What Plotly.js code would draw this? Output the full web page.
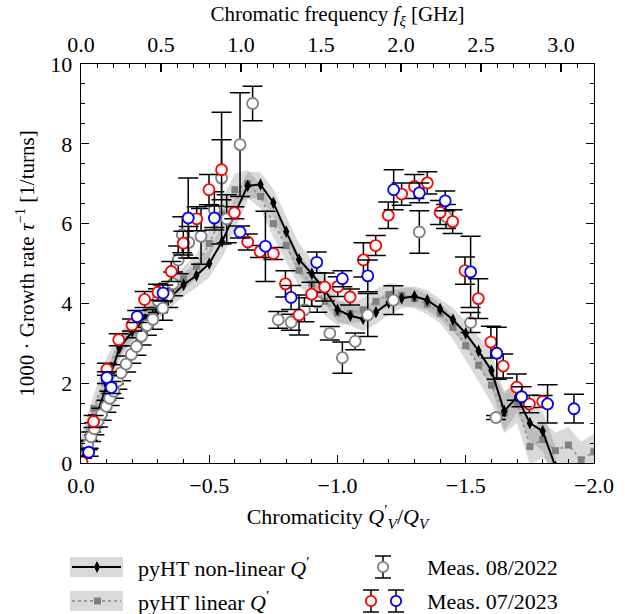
<!DOCTYPE html>
<html><head><meta charset="utf-8">
<script src="https://cdn.plot.ly/plotly-3.0.1.min.js"></script>
<style>html,body{margin:0;padding:0;background:#fff}#chart{width:625px;height:614px}</style>
</head><body><div id="chart"></div>
<script>
// ---- pyHT non-linear Q' model ----
const nlQ = [0,-0.05,-0.1,-0.15,-0.2,-0.25,-0.3,-0.35,-0.4,-0.45,
  -0.5,-0.55,-0.6,-0.65,-0.7,-0.75,-0.8,-0.85,-0.9,-0.95,
  -1.0,-1.05,-1.1,-1.15,-1.2,-1.25,-1.3,-1.35,-1.4,-1.45,
  -1.5,-1.55,-1.6,-1.65,-1.7,-1.75,-1.8,-1.85];
const nlGrowth = [0.05,1.0,1.95,2.88,3.3,3.6,3.85,4.15,4.47,4.7,
  5.0,5.55,6.25,6.95,6.98,6.52,5.80,5.10,4.74,4.34,
  3.84,3.69,3.61,3.78,4.02,4.13,4.18,4.08,3.86,3.59,
  3.25,2.81,2.32,1.30,1.66,1.00,0.80,-0.1];
const nlSpread = [0.3,0.35,0.35,0.3,0.25,0.25,0.25,0.25,0.3,0.3,
  0.35,0.4,0.4,0.35,0.3,0.35,0.4,0.4,0.35,0.35,
  0.3,0.25,0.3,0.3,0.3,0.25,0.25,0.25,0.25,0.3,
  0.3,0.35,0.45,0.5,0.4,0.45,0.5,0.5];

// ---- pyHT linear Q' model ----
const linQ = [0,-0.05,-0.1,-0.15,-0.2,-0.25,-0.3,-0.35,-0.4,-0.45,
  -0.5,-0.55,-0.6,-0.65,-0.7,-0.75,-0.8,-0.85,-0.9,-0.95,
  -1.0,-1.05,-1.1,-1.15,-1.2,-1.25,-1.3,-1.35,-1.4,-1.45,
  -1.5,-1.55,-1.6,-1.65,-1.7,-1.75,-1.8,-1.85,-1.9,-1.95,-2.0];
const linGrowth = [0.35,1.37,2.3,2.95,3.35,3.65,3.95,4.3,4.62,4.93,
  5.5,6.22,6.85,7.0,6.68,6.0,5.45,4.83,4.49,4.05,
  3.76,3.75,3.84,4.05,4.22,4.2,4.12,3.98,3.75,3.40,
  2.94,2.45,1.95,1.25,1.5,0.41,0.59,0.31,0.45,0.08,0.28];
const linSpread = [0.3,0.35,0.35,0.3,0.25,0.25,0.25,0.25,0.3,0.3,
  0.35,0.4,0.4,0.35,0.3,0.35,0.4,0.4,0.35,0.35,
  0.3,0.25,0.3,0.3,0.3,0.25,0.25,0.25,0.25,0.3,
  0.35,0.4,0.45,0.5,0.5,0.45,0.45,0.45,0.45,0.45,0.45];

// ---- Measurement 08/2022 (grey) ----
const m22Q = [-0.026,-0.039,-0.052,-0.066,-0.080,-0.099,-0.112,-0.128,-0.142,-0.156,
  -0.176,-0.196,-0.216,-0.236,-0.257,-0.280,-0.300,-0.319,-0.340,-0.359,
  -0.379,-0.395,-0.420,-0.468,-0.520,-0.548,-0.568,-0.620,-0.669,-0.769,
  -0.819,-0.871,-0.921,-0.970,-1.019,-1.069,-1.118,-1.218,-1.319,-1.423,
  -1.519,-1.618];
const m22Growth = [0.45,0.66,0.86,1.05,1.22,1.42,1.62,1.80,2.05,2.26,
  2.48,2.72,2.92,3.18,3.45,3.60,4.07,3.88,4.20,4.49,
  5.09,5.72,5.53,5.68,6.35,7.14,6.12,7.98,9.01,3.59,
  3.53,3.84,4.03,3.25,2.64,3.05,3.71,4.08,5.79,6.18,
  3.52,1.14];
const m22Err = [0.12,0.12,0.15,0.15,0.15,0.15,0.18,0.18,0.2,0.2,
  0.2,0.22,0.22,0.22,0.25,0.25,0.3,0.3,0.3,0.3,
  0.35,0.45,0.4,0.7,0.45,1.65,0.6,1.3,0.43,0.21,
  0.2,0.3,0.25,0.17,0.39,0.21,0.54,0.36,0.53,0.3,
  0.25,0.05];

// ---- Measurement 07/2023 (red) ----
const m23aQ = [-0.004,-0.049,-0.101,-0.147,-0.199,-0.248,-0.300,-0.352,-0.399,-0.451,
  -0.499,-0.548,-0.598,-0.650,-0.698,-0.750,-0.797,-0.850,-0.899,-0.950,
  -1.001,-1.049,-1.101,-1.149,-1.198,-1.250,-1.300,-1.350,-1.400,-1.449,
  -1.497,-1.549,-1.598,-1.646,-1.699,-1.748,-1.800];
const m23aGrowth = [0.02,1.04,2.35,3.09,3.46,4.10,4.28,4.80,5.51,6.12,
  6.85,7.35,6.27,5.54,5.30,5.25,4.49,3.71,4.23,4.41,
  4.42,4.16,5.09,5.45,6.21,6.74,6.93,7.02,6.28,6.05,
  4.82,4.12,3.03,2.43,1.90,1.48,1.54];
const m23aErr = [0.1,0.15,0.15,0.15,0.15,0.2,0.2,0.25,0.3,0.3,
  0.38,0.75,0.15,0.2,0.15,0.15,0.33,0.5,0.3,0.35,
  0.25,0.2,0.43,0.25,0.33,0.28,0.3,0.28,0.3,0.3,
  0.34,0.5,0.4,0.3,0.33,0.22,0.15];

// ---- Measurement 07/2023 (blue) ----
const m23bQ = [-0.030,-0.101,-0.118,-0.219,-0.320,-0.418,-0.520,-0.620,-0.719,-0.819,
  -0.919,-1.019,-1.118,-1.219,-1.319,-1.420,-1.519,-1.621,-1.718,-1.819,-1.922];
const m23bGrowth = [0.27,2.14,1.89,3.67,4.26,6.14,6.14,5.79,5.43,4.15,
  5.03,4.62,4.69,6.85,6.77,6.57,4.79,2.75,1.66,1.48,1.36];
const m23bErr = [0.1,0.15,0.15,0.15,0.2,1.0,0.3,0.15,0.88,0.3,
  0.26,0.2,0.4,0.5,0.25,0.25,0.89,0.65,0.25,0.48,0.36];

// Top axis range (chromatic frequency, GHz)
const freqRange = [0, 3.206];

const FONT = 'Liberation Serif, Times New Roman, serif';
const bandColor = 'rgba(128,128,128,0.3)';

function band(xs, ys, sp, name) {
  const lo = ys.map((v, i) => v - sp[i]);
  const hi = ys.map((v, i) => v + sp[i]);
  return [
    {x: xs, y: lo, mode: 'lines', line: {width: 0}, hoverinfo: 'skip', showlegend: false, name: name + ' lo'},
    {x: xs, y: hi, mode: 'lines', line: {width: 0}, fill: 'tonexty', fillcolor: bandColor, hoverinfo: 'skip', showlegend: false, name: name + ' hi'}
  ];
}

const meas = (xs, ys, es, col, name) => ({
  x: xs, y: ys, name: name, mode: 'markers', type: 'scatter',
  marker: {symbol: 'circle', size: 11, color: 'white', line: {color: col, width: 1.8}},
  error_y: {type: 'data', array: es, visible: true, color: 'black', thickness: 1.5, width: 10}
});

const traces = [
  ...band(nlQ, nlGrowth, nlSpread, 'nl'),
  ...band(linQ, linGrowth, linSpread, 'lin'),
  {x: linQ, y: linGrowth, name: 'pyHT linear', mode: 'lines+markers',
   line: {color: '#9a9a9a', width: 2, dash: 'dot'},
   marker: {symbol: 'square', size: 7, color: '#808080'}},
  {x: nlQ, y: nlGrowth, name: 'pyHT non-linear', mode: 'lines+markers',
   line: {color: 'black', width: 2},
   marker: {symbol: 'diamond-tall', size: 9, color: 'black'}},
  meas(m22Q, m22Growth, m22Err, '#808080', 'Meas. 08/2022'),
  meas(m23aQ, m23aGrowth, m23aErr, '#ff0000', 'Meas. 07/2023 a'),
  meas(m23bQ, m23bGrowth, m23bErr, '#0000ff', 'Meas. 07/2023 b'),
  {x: freqRange, y: [null, null], xaxis: 'x2', yaxis: 'y', mode: 'markers', showlegend: false, hoverinfo: 'skip'}
];

// legend helpers (pixel -> paper)
const L = 81, R = 594, T = 64, B = 463;
const PX = p => (p - L) / (R - L);
const PY = p => (B - p) / (B - T);

const shapes = [];
function line(x0, y0, x1, y1, col, w, dash) {
  shapes.push({type: 'line', xref: 'paper', yref: 'paper', x0: PX(x0), y0: PY(y0), x1: PX(x1), y1: PY(y1),
    line: {color: col, width: w, dash: dash || 'solid'}});
}
function rect(x0, y0, x1, y1, fill) {
  shapes.push({type: 'rect', xref: 'paper', yref: 'paper', x0: PX(x0), y0: PY(y0), x1: PX(x1), y1: PY(y1),
    fillcolor: fill, line: {width: 0}});
}
function circ(cx, cy, r, col) {
  shapes.push({type: 'circle', xref: 'paper', yref: 'paper', x0: PX(cx - r), y0: PY(cy + r), x1: PX(cx + r), y1: PY(cy - r),
    fillcolor: 'white', line: {color: col, width: 1.8}});
}
function errSym(cx, cy, col) {
  line(cx, cy - 11, cx, cy + 11, 'black', 1.5);
  line(cx - 8, cy - 11, cx + 8, cy - 11, 'black', 1.5);
  line(cx - 8, cy + 11, cx + 8, cy + 11, 'black', 1.5);
  circ(cx, cy, 5.2, col);
}
const r1 = 567, r2 = 601;
rect(70, r1 - 10, 123, r1 + 10, '#d9d9d9');
line(72, r1, 121, r1, 'black', 2);
shapes.push({type: 'path', xref: 'paper', yref: 'paper',
  path: `M ${PX(97)} ${PY(r1 - 6)} L ${PX(100)} ${PY(r1)} L ${PX(97)} ${PY(r1 + 6)} L ${PX(94)} ${PY(r1)} Z`,
  fillcolor: 'black', line: {width: 0}});
rect(70, r2 - 10, 123, r2 + 10, '#d9d9d9');
line(72, r2, 121, r2, '#9a9a9a', 2, 'dot');
rect(94, r2 - 3.5, 101, r2 + 3.5, '#808080');
errSym(383, r1, '#808080');
errSym(371, r2, '#ff0000');
errSym(396, r2, '#0000ff');

const annFont = {family: FONT, size: 22, color: 'black'};
const annotations = [
  {text: 'pyHT non-linear <i>Q</i><sup>′</sup>', x: PX(136), y: PY(r1)},
  {text: 'pyHT linear <i>Q</i><sup>′</sup>', x: PX(136), y: PY(r2)},
  {text: 'Meas. 08/2022', x: PX(425), y: PY(r1)},
  {text: 'Meas. 07/2023', x: PX(425), y: PY(r2)}
].map(a => Object.assign(a, {xref: 'paper', yref: 'paper', xanchor: 'left', yanchor: 'middle', showarrow: false, font: annFont}));

const axisCommon = {
  showline: true, linecolor: 'black', linewidth: 1.3, showgrid: false, zeroline: false,
  ticks: 'inside', ticklen: 8, tickwidth: 1.2, tickcolor: 'black',
  tickfont: {family: FONT, size: 22, color: 'black'}
};

const layout = {
  width: 625, height: 614,
  margin: {l: L, r: 625 - R, t: T, b: 614 - B},
  paper_bgcolor: 'white', plot_bgcolor: 'white',
  showlegend: false,
  font: {family: FONT, color: 'black'},
  xaxis: Object.assign({}, axisCommon, {
    range: [0, -2], tick0: 0, dtick: 0.5, tickformat: '.1f', mirror: false, ticklabelstandoff: 2,
    minor: {dtick: 0.1, ticks: 'inside', ticklen: 4, tickcolor: 'black', tickwidth: 1},
    title: {text: 'Chromaticity <i>Q</i><sup>′</sup><sub><i>V</i></sub>/<i>Q</i><sub><i>V</i></sub>', font: {family: FONT, size: 22}, standoff: 12}
  }),
  xaxis2: Object.assign({}, axisCommon, {
    overlaying: 'x', side: 'top', anchor: 'y', range: freqRange, tick0: 0, dtick: 0.5, tickformat: '.1f', ticklabelstandoff: 2,
    minor: {dtick: 0.1, ticks: 'inside', ticklen: 4, tickcolor: 'black', tickwidth: 1},
    title: {text: 'Chromatic frequency <i>f</i><sub><i>ξ</i></sub> [GHz]', font: {family: FONT, size: 21}, standoff: 4}
  }),
  yaxis: Object.assign({}, axisCommon, {
    range: [0, 10], tick0: 0, dtick: 2, mirror: 'ticks', ticklabelstandoff: 3,
    minor: {dtick: 0.5, ticks: 'inside', ticklen: 4, tickcolor: 'black', tickwidth: 1},
    title: {text: '1000 · Growth rate <i>τ</i><sup>−1</sup> [1/turns]', font: {family: FONT, size: 21}, standoff: 10}
  }),
  shapes: shapes,
  annotations: annotations
};

Plotly.newPlot('chart', traces, layout, {displayModeBar: false, staticPlot: true});
</script>
</body></html>
